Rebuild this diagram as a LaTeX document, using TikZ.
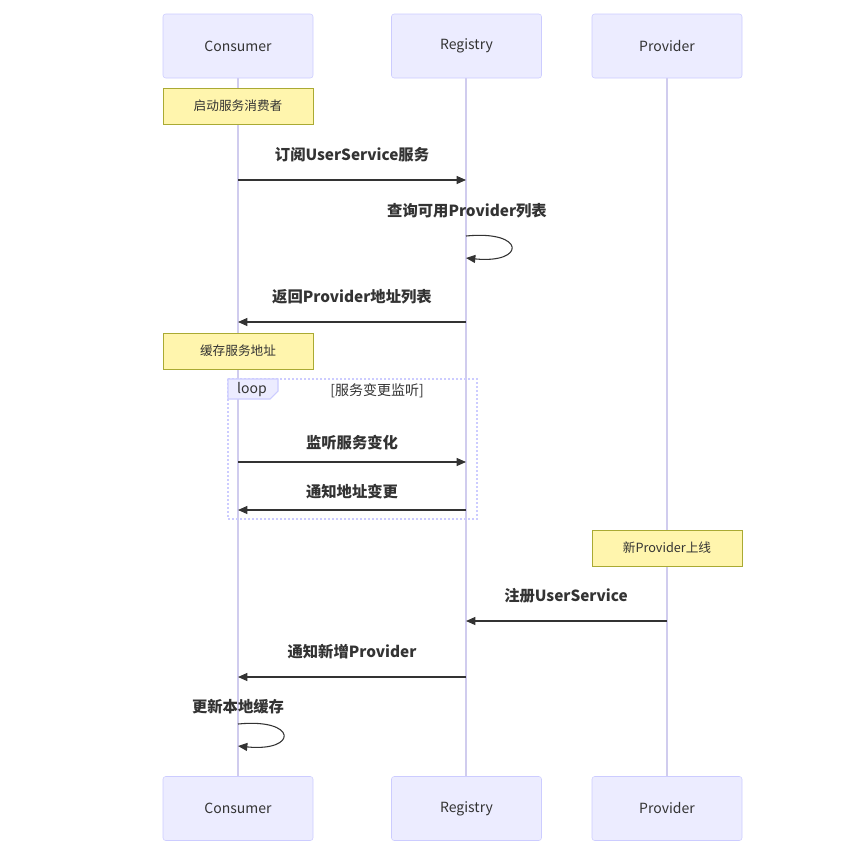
\documentclass[tikz,border=0pt]{standalone}
\usepackage{fontspec}
\setmainfont{Noto Sans CJK SC}
\usetikzlibrary{arrows.meta}
\definecolor{actfill}{HTML}{ECECFF}
\definecolor{actdraw}{HTML}{CCCCFF}
\definecolor{lifec}{HTML}{D0CCEE}
\definecolor{notefill}{HTML}{FFF5AD}
\definecolor{notedraw}{HTML}{AAAA33}
\definecolor{txt}{HTML}{333333}
\begin{document}
\begin{tikzpicture}[x=0.75pt,y=-0.75pt,
 actor/.style={draw=actdraw,fill=actfill,rounded corners=2pt,minimum width=112.5pt,minimum height=48pt,font=\fontsize{10.5}{12}\selectfont,text=txt,inner sep=0},
 note/.style={draw=notedraw,fill=notefill,minimum width=112.5pt,minimum height=27pt,font=\fontsize{9.5}{11}\selectfont,text=txt,inner sep=0},
 msg/.style={draw=txt,line width=0.8pt,-{Triangle[length=7pt,width=6pt]}},
 lbl/.style={font=\bfseries\fontsize{11.5}{13}\selectfont,text=txt},
 life/.style={draw=lifec,line width=1pt}]
\useasboundingbox (0,0) rectangle (867,861);
\fill[white] (0,0) rectangle (867,861);
% lifelines
\coordinate (c1) at (238,78); \coordinate (c2) at (238,776);
\coordinate (r1) at (466,78); \coordinate (r2) at (466,776);
\coordinate (p1) at (667,78); \coordinate (p2) at (667,776);
\draw[life] (c1)--(c2); \draw[life] (r1)--(r2); \draw[life] (p1)--(p2);
% actors
\node[actor] (ct) at (238,46) {Consumer};
\node[actor] (rt) at (466.5,46) {Registry};
\node[actor] (pt) at (667,46) {Provider};
\node[actor] (cb) at (238,808.5) {Consumer};
\node[actor] (rb) at (466.5,808.5) {Registry};
\node[actor] (pb) at (667,808.5) {Provider};
% notes
\node[note] (n1) at (238,106) {启动服务消费者};
\node[note] (n2) at (238,351) {缓存服务地址};
\node[note] (n3) at (667,548) {新Provider上线};
% loop
\draw[actdraw,dash pattern=on 1.5pt off 1.5pt,line width=0.8pt] (228,379) rectangle (477,519);
\draw[actdraw,fill=actfill,line width=0.8pt] (228,379) -- (278,379) -- (278,391) -- (270,399) -- (228,399) -- cycle;
\node[font=\fontsize{10.5}{12}\selectfont,text=txt] (lt) at (252,390) {loop};
\node[font=\fontsize{10.5}{12}\selectfont,text=txt] (lc) at (377,391) {[服务变更监听]};
% coordinates
\coordinate (a1) at (238,180); \coordinate (b1) at (466,180);
\coordinate (s1) at (466,236); \coordinate (s2) at (466,258);
\coordinate (a3) at (238,322); \coordinate (b3) at (466,322);
\coordinate (a4) at (238,462); \coordinate (b4) at (466,462);
\coordinate (a5) at (238,510); \coordinate (b5) at (466,510);
\coordinate (a6) at (466,621); \coordinate (b6) at (667,621);
\coordinate (a7) at (238,677); \coordinate (b7) at (466,677);
\coordinate (t1) at (238,724); \coordinate (t2) at (238,746);
\draw[msg] (a1) -- (b1);
\node[lbl] (l1) at (352,155) {订阅UserService服务};
\draw[msg] (s1) .. controls (526,230) and (526,264) .. (s2);
\node[lbl] (l2) at (467,211) {查询可用Provider列表};
\draw[msg] (b3) -- (a3);
\node[lbl] (l3) at (352,297) {返回Provider地址列表};
\draw[msg] (a4) -- (b4);
\node[lbl] (l4) at (352,443) {监听服务变化};
\draw[msg] (b5) -- (a5);
\node[lbl] (l5) at (352,492) {通知地址变更};
\draw[msg] (b6) -- (a6);
\node[lbl] (l6) at (566,596) {注册UserService};
\draw[msg] (b7) -- (a7);
\node[lbl] (l7) at (352,652) {通知新增Provider};
\draw[msg] (t1) .. controls (298,718) and (298,752) .. (t2);
\node[lbl] (l8) at (238,707) {更新本地缓存};
\end{tikzpicture}
\end{document}
